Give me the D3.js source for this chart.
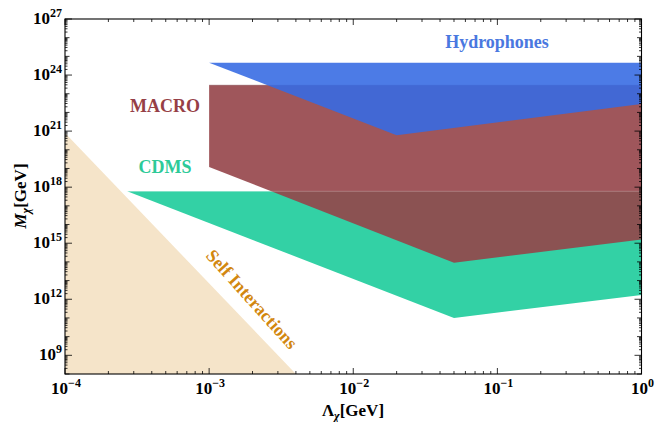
<!DOCTYPE html>
<html>
<head>
<meta charset="utf-8">
<script src="https://cdn.jsdelivr.net/npm/d3@7"></script>
<style>
  body { margin: 0; background: #fff; }
</style>
</head>
<body>
<svg id="chart" width="663" height="422"></svg>
<script>
// axis ranges (GeV)
var lambdaDomain = [1e-4, 1];
var massDomain = [1e8, 1e27];

var xTickExps = [-4, -3, -2, -1, 0];
var yTickExps = [9, 12, 15, 18, 21, 24, 27];

// region outlines
var selfLambda = [1e-4, 4e-3, 1e-4];
var selfMass = [8e20, 1e8, 1e8];

var cdmsLambda = [2.7e-4, 1, 1, 0.05];
var cdmsMass = [6e17, 6e17, 1.7e12, 1e11];

var macroLambda = [1e-3, 1, 1, 0.05, 1e-3];
var macroMass = [2.85e23, 2.85e23, 1.6e15, 9e13, 1.2e19];

var hydroLambda = [1e-3, 1, 1, 0.02];
var hydroMass = [4.6e24, 4.6e24, 2.8e22, 6e20];

var margin = {left: 65, right: 21.5, top: 19, bottom: 48};
var W = 663, H = 422;
var serif = "'Liberation Serif', 'Times New Roman', Times, serif";

var svg = d3.select("#chart")
  .attr("font-family", serif)
  .attr("font-weight", "bold");

var x = d3.scaleLog().domain(lambdaDomain).range([margin.left, W - margin.right]);
var y = d3.scaleLog().domain(massDomain).range([H - margin.bottom, margin.top]);

function zipPts(xs, ys){
  return xs.map(function(v, i){ return [x(v), y(ys[i])]; });
}

svg.append("clipPath").attr("id", "plotclip")
  .append("rect")
  .attr("x", x.range()[0]).attr("y", y.range()[1])
  .attr("width", x.range()[1] - x.range()[0])
  .attr("height", y.range()[0] - y.range()[1]);

var line = d3.line().curve(d3.curveLinearClosed);
var plot = svg.append("g").attr("clip-path", "url(#plotclip)");

var regions = [
  {xs: selfLambda, ys: selfMass, fill: "#f5e4c9", op: 1},
  {xs: cdmsLambda, ys: cdmsMass, fill: "#33d1a5", op: 1},
  {xs: macroLambda, ys: macroMass, fill: "#954449", op: 0.9},
  {xs: hydroLambda, ys: hydroMass, fill: "#366be3", op: 0.89}
];

regions.forEach(function(r, i){
  plot.append("path")
    .attr("d", line(zipPts(r.xs, r.ys)))
    .attr("fill", r.fill)
    .attr("fill-opacity", r.op);
  // faint edge seams that show through the overlapping layers
  if (i == 2){
    plot.append("line")
      .attr("x1", x(cdmsLambda[0])).attr("x2", x(cdmsLambda[1]))
      .attr("y1", y(cdmsMass[0])).attr("y2", y(cdmsMass[1]))
      .attr("stroke", "#fff").attr("stroke-opacity", 0.3).attr("stroke-width", 0.8);
    plot.append("line")
      .attr("x1", x(macroLambda[0])).attr("x2", x(macroLambda[1]))
      .attr("y1", y(macroMass[0])).attr("y2", y(macroMass[1]))
      .attr("stroke", "#6a2a30").attr("stroke-opacity", 0.5).attr("stroke-width", 0.8);
  }
});

// frame
svg.append("rect")
  .attr("x", x.range()[0]).attr("y", y.range()[1])
  .attr("width", x.range()[1] - x.range()[0])
  .attr("height", y.range()[0] - y.range()[1])
  .attr("fill", "none").attr("stroke", "#000").attr("stroke-width", 1.1);

// ticks, all pointing inward
var ticks = svg.append("g").attr("stroke", "#000").attr("stroke-width", 0.8);
var x0 = x.range()[0], x1 = x.range()[1], yb = y.range()[0], yt = y.range()[1];

for (var e = -4; e <= 0; e++){
  for (var m = 1; m <= 9; m++){
    var v = m * Math.pow(10, e);
    if (v > 1) break;
    var len = (m == 1) ? 6 : 3;
    ticks.append("line").attr("x1", x(v)).attr("x2", x(v)).attr("y1", yb).attr("y2", yb - len);
    ticks.append("line").attr("x1", x(v)).attr("x2", x(v)).attr("y1", yt).attr("y2", yt + len);
  }
}
for (var e = 8; e <= 27; e++){
  for (var m = 1; m <= 9; m++){
    var v = m * Math.pow(10, e);
    if (v > 1e27) break;
    var len = (m == 1) ? ((e % 3 == 0) ? 7 : 4.5) : 2.5;
    ticks.append("line").attr("y1", y(v)).attr("y2", y(v)).attr("x1", x0).attr("x2", x0 + len);
    ticks.append("line").attr("y1", y(v)).attr("y2", y(v)).attr("x1", x1).attr("x2", x1 - len);
  }
}

// tick labels
xTickExps.forEach(function(e){
  var t = svg.append("text")
    .attr("x", x(Math.pow(10, e)) + 1).attr("y", 394)
    .attr("text-anchor", "middle").attr("font-size", 17);
  t.append("tspan").text("10");
  t.append("tspan").attr("dy", -7).attr("font-size", 12).text(e < 0 ? "\u2212" + (-e) : e);
});

yTickExps.forEach(function(e){
  var t = svg.append("text")
    .attr("x", 62).attr("y", y(Math.pow(10, e)) + 5)
    .attr("text-anchor", "end").attr("font-size", 17);
  t.append("tspan").text("10");
  t.append("tspan").attr("dy", -7).attr("font-size", 12).text(e);
});

// axis titles
var xt = svg.append("text").attr("x", 353).attr("y", 416)
  .attr("text-anchor", "middle").attr("font-size", 17);
xt.append("tspan").text("\u039B");
xt.append("tspan").attr("font-style", "italic").attr("font-size", 12).attr("dy", 4).text("\u03C7");
xt.append("tspan").attr("dy", -4).text("[GeV]");

var yt2 = svg.append("text").attr("transform", "translate(26,196) rotate(-90)")
  .attr("text-anchor", "middle").attr("font-size", 17);
yt2.append("tspan").attr("font-style", "italic").text("M");
yt2.append("tspan").attr("font-style", "italic").attr("font-size", 12).attr("dy", 4).text("\u03C7");
yt2.append("tspan").attr("dy", -4).text("[GeV]");

// region labels
var labels = [
  {txt: "Hydrophones", x: 497, y: 48, c: "#4a78e0", rot: 0},
  {txt: "MACRO", x: 165, y: 111.5, c: "#963f46", rot: 0},
  {txt: "CDMS", x: 165, y: 172.5, c: "#2dca98", rot: 0},
  {txt: "Self Interactions", x: 252, y: 299, c: "#d2870f", rot: 48}
];
labels.forEach(function(d){
  svg.append("text")
    .attr("transform", "translate(" + d.x + "," + d.y + ") rotate(" + d.rot + ")")
    .attr("text-anchor", "middle")
    .attr("dy", d.rot ? "0.35em" : 0)
    .attr("font-size", 18)
    .attr("fill", d.c)
    .text(d.txt);
});
</script>
</body>
</html>
